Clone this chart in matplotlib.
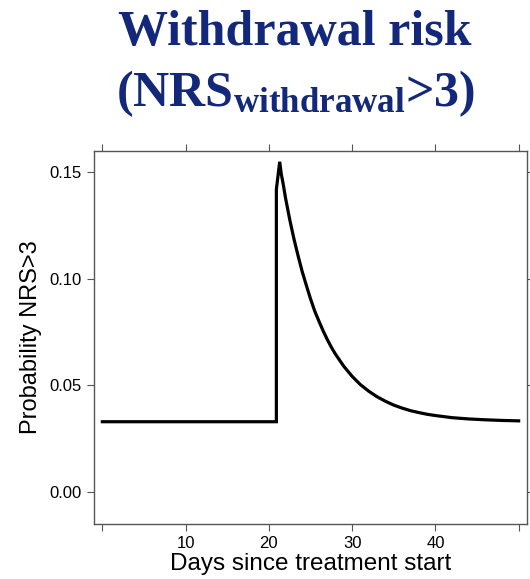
import matplotlib.pyplot as plt

plt.rcParams['mathtext.fontset'] = 'custom'
plt.rcParams['mathtext.rm'] = 'Liberation Serif:bold'
plt.rcParams['mathtext.it'] = 'Liberation Serif:bold'
plt.rcParams['mathtext.bf'] = 'Liberation Serif:bold'

# model-predicted probability of NRS > 3 over time
days = [0, 20.9, 20.9, 21.3, 21.5, 21.7, 22, 22.5, 23, 23.5, 24, 24.5,
        25, 25.5, 26, 26.5, 27, 27.5, 28, 29, 30, 31, 32, 33, 34, 35,
        36, 37, 38, 39, 40, 42, 44, 46, 48, 50]
prob = [0.033, 0.033, 0.142, 0.155, 0.149, 0.145, 0.138, 0.128, 0.119,
        0.111, 0.1035, 0.097, 0.0907, 0.085, 0.0803, 0.0758, 0.0717,
        0.068, 0.0647, 0.059, 0.0543, 0.0504, 0.0473, 0.0447, 0.0426,
        0.0408, 0.0394, 0.0382, 0.0373, 0.0365, 0.0359, 0.0349, 0.0343,
        0.0339, 0.0336, 0.0334]

x_ticks = [0, 10, 20, 30, 40, 50]
x_labels = ["", "10", "20", "30", "40", ""]
y_ticks = [0.00, 0.05, 0.10, 0.15]
y_labels = ["0.00", "0.05", "0.10", "0.15"]

title_color = "#13287a"
frame_color = "#555555"

fig = plt.figure(figsize=(5.30, 5.79), dpi=100)
ax = fig.add_axes([0.1774, 0.095, 0.8169, 0.644])

ax.plot(days, prob, color="black", lw=2.3, solid_joinstyle="miter")

ax.set_xlim(-1, 51)
ax.set_ylim(-0.015, 0.16)
ax.set_xticks(x_ticks)
ax.set_xticklabels(x_labels, fontsize=12, family="Liberation Sans")
ax.set_yticks(y_ticks)
ax.set_yticklabels(y_labels, fontsize=12, family="Liberation Sans")

ax.tick_params(direction="out", length=5, width=0.8, color=frame_color,
               top=True, right=True, pad=4)
for s in ax.spines.values():
    s.set_color(frame_color)
    s.set_linewidth(1.0)

ax.set_xlabel("Days since treatment start", fontsize=17.5,
              family="Liberation Sans", labelpad=1)
ax.set_ylabel("Probability NRS>3", fontsize=17,
              family="Liberation Sans", labelpad=5)

fig.text(0.557, 0.9223, "Withdrawal risk", ha="center", va="baseline",
         fontsize=36, fontweight="bold", family="Liberation Serif",
         color=title_color)
fig.text(0.557, 0.817, r"(NRS$_{\mathrm{withdrawal}}$>3)", ha="center",
         va="baseline", fontsize=36, fontweight="bold",
         family="Liberation Serif", color=title_color)

fig.savefig("out.png", dpi=100)
